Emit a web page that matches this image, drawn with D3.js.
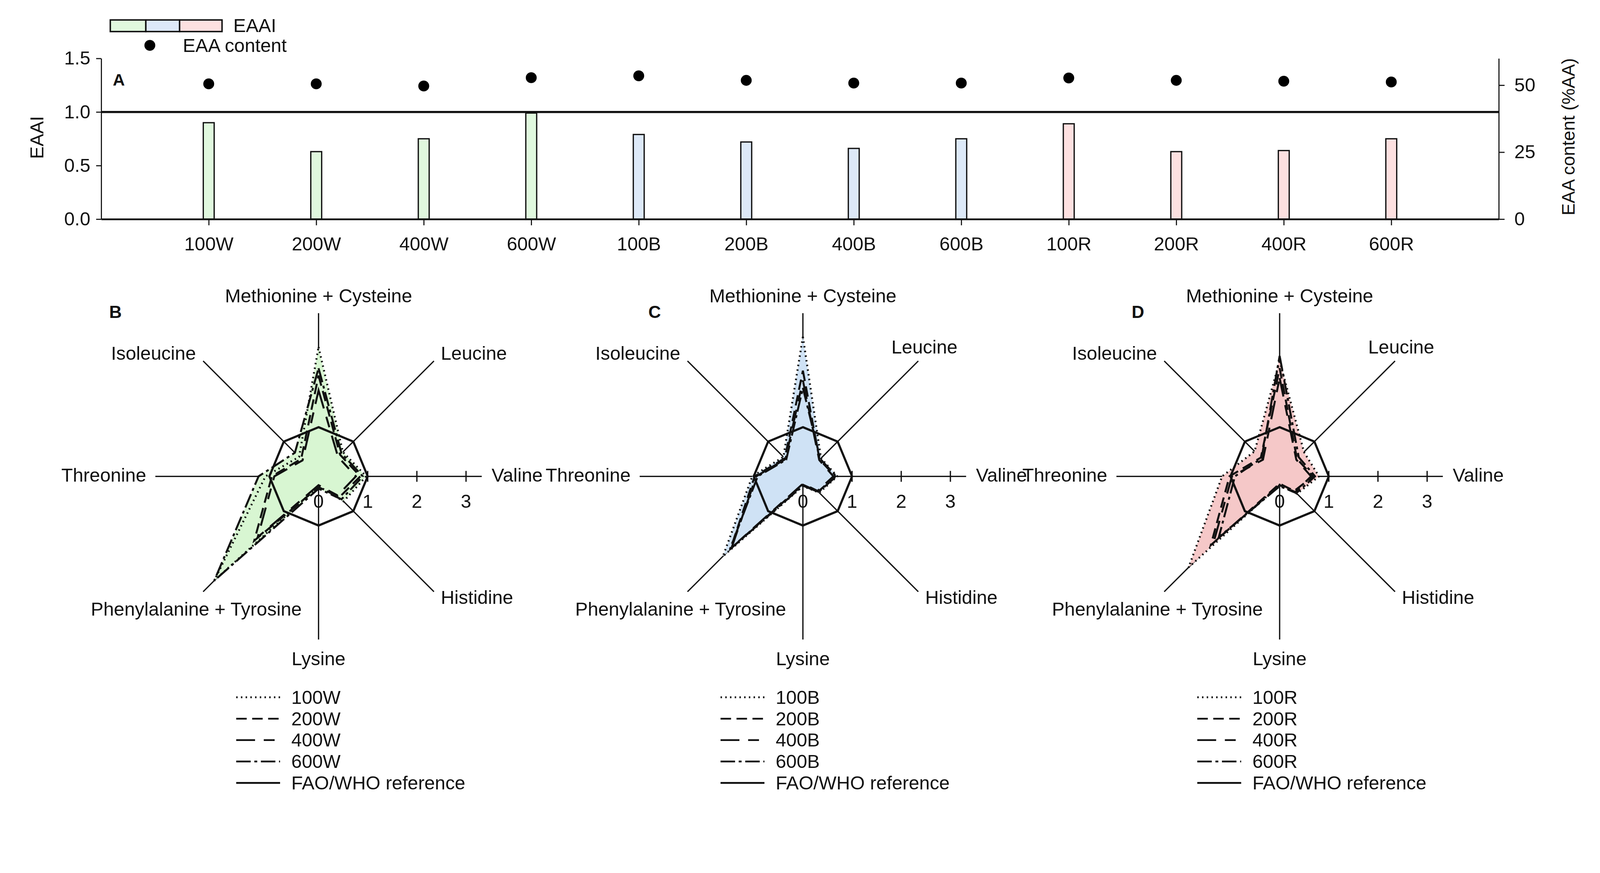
<!DOCTYPE html>
<html>
<head>
<meta charset="utf-8">
<script src="https://cdn.jsdelivr.net/npm/d3@7"></script>
<style>
  html, body { margin: 0; padding: 0; background: #fff; overflow: hidden; }
  svg { display: block; width: 100vw; height: 100vh; }
  text { font-family: Arial, "Liberation Sans", sans-serif; fill: #111; }
</style>
</head>
<body>
<script>
// ---- panel A data
var categories = ["100W", "200W", "400W", "600W", "100B", "200B", "400B", "600B", "100R", "200R", "400R", "600R"];
var groups = ["W", "W", "W", "W", "B", "B", "B", "B", "R", "R", "R", "R"];
var eaai = [0.90, 0.63, 0.75, 0.99, 0.79, 0.72, 0.66, 0.75, 0.89, 0.63, 0.64, 0.75];
var eaaContent = [50.5, 50.5, 49.7, 52.8, 53.5, 51.8, 50.8, 50.8, 52.7, 51.8, 51.5, 51.2];
var leftTicks = [0, 0.5, 1.0, 1.5];
var rightTicks = [0, 25, 50];

// ---- radar data (order of aminoAcids)
var aminoAcids = ["Methionine + Cysteine", "Leucine", "Valine", "Histidine", "Lysine",
                  "Phenylalanine + Tyrosine", "Threonine", "Isoleucine"];
var reference = [1, 1, 1, 1, 1, 1, 1, 1];
var radarTicks = [0, 1, 2, 3];

var w100 = [2.63, 0.70, 0.97, 0.72, 0.20, 3.00, 1.08, 0.56];
var w200 = [2.05, 0.62, 0.85, 0.60, 0.22, 1.85, 0.95, 0.50];
var w400 = [1.75, 0.56, 0.76, 0.55, 0.18, 1.75, 0.90, 0.46];
var w600 = [2.20, 0.66, 0.90, 0.66, 0.25, 3.00, 1.22, 0.68];

var b100 = [2.84, 0.52, 0.70, 0.47, 0.20, 2.30, 1.03, 0.56];
var b200 = [2.15, 0.48, 0.66, 0.44, 0.17, 2.08, 0.98, 0.52];
var b400 = [1.95, 0.47, 0.62, 0.42, 0.15, 2.05, 0.95, 0.50];
var b600 = [1.80, 0.50, 0.68, 0.45, 0.19, 2.10, 0.92, 0.48];

var r100 = [2.35, 0.70, 0.80, 0.50, 0.17, 2.62, 1.17, 0.72];
var r200 = [2.20, 0.50, 0.68, 0.42, 0.15, 1.98, 1.02, 0.54];
var r400 = [2.00, 0.48, 0.64, 0.45, 0.18, 1.90, 0.97, 0.48];
var r600 = [2.45, 0.55, 0.72, 0.48, 0.20, 1.75, 0.91, 0.52];

var barColor = { W: "#e0f8de", B: "#dde9f8", R: "#fde0e0" };
var dashes = ["4 9", "29 15", "52 24 30 24", "40 10 8 10"];

var W = 4410, H = 2235;
var svg = d3.select("body").append("svg")
    .attr("viewBox", "0 0 " + W + " " + H)
    .attr("preserveAspectRatio", "xMidYMin meet");
svg.append("rect").attr("width", W).attr("height", H).attr("fill", "#fff");

// ================= panel A =================
var x = d3.scaleLinear().domain([0, categories.length + 1]).range([279, 4131]);
var yL = d3.scaleLinear().domain([0, 1.5]).range([604, 161]);
var yR = d3.scaleLinear().domain([0, 60]).range([604, 161]);

function styleAxis(g, w) {
    g.attr("font-family", "Arial, 'Liberation Sans', sans-serif").attr("font-size", 52);
    g.select(".domain").attr("stroke", "#111").attr("stroke-width", w);
    g.selectAll(".tick line").attr("stroke", "#111").attr("stroke-width", 3);
    g.selectAll(".tick text").attr("fill", "#111");
}

svg.append("g").attr("transform", "translate(" + x(0) + ",0)")
    .call(d3.axisLeft(yL).tickValues(leftTicks).tickFormat(d3.format(".1f"))
        .tickSize(14).tickPadding(16).tickSizeOuter(0))
    .call(styleAxis, 3);

svg.append("g").attr("transform", "translate(" + x(categories.length + 1) + ",0)")
    .call(d3.axisRight(yR).tickValues(rightTicks).tickSize(16).tickPadding(27).tickSizeOuter(0))
    .call(styleAxis, 3);

// bars
svg.append("g").selectAll("rect").data(eaai).enter().append("rect")
    .attr("x", function(d, i) { return x(i + 1) - 15; })
    .attr("y", function(d) { return yL(d); })
    .attr("width", 30)
    .attr("height", function(d) { return yL(0) - yL(d); })
    .attr("fill", function(d, i) { return barColor[groups[i]]; })
    .attr("stroke", "#111").attr("stroke-width", 3.5);

svg.append("g").attr("transform", "translate(0," + yL(0) + ")")
    .call(d3.axisBottom(x).tickValues(d3.range(1, categories.length + 1))
        .tickFormat(function(i) { return categories[i - 1]; })
        .tickSize(17).tickPadding(32).tickSizeOuter(0))
    .call(styleAxis, 5);

// reference line EAAI = 1
svg.append("line")
    .attr("x1", x(0)).attr("x2", x(categories.length + 1))
    .attr("y1", yL(1)).attr("y2", yL(1))
    .attr("stroke", "#111").attr("stroke-width", 6);

// dots
svg.append("g").selectAll("circle").data(eaaContent).enter().append("circle")
    .attr("cx", function(d, i) { return x(i + 1); })
    .attr("cy", function(d) { return yR(d); })
    .attr("r", 15).attr("fill", "#000");

svg.append("text").attr("x", 311).attr("y", 236)
    .attr("font-size", 46).attr("font-weight", "bold").text("A");

svg.append("text").attr("transform", "translate(120,379) rotate(-90)")
    .attr("text-anchor", "middle").attr("font-size", 52).text("EAAI");
svg.append("text").attr("transform", "translate(4340,377) rotate(-90)")
    .attr("text-anchor", "middle").attr("font-size", 50).text("EAA content (%AA)");

// top legend
var lg = svg.append("g");
[["W", 304, 402], ["B", 402, 495], ["R", 495, 612]].forEach(function(s) {
    lg.append("rect").attr("x", s[1]).attr("y", 55).attr("width", s[2] - s[1]).attr("height", 32)
        .attr("fill", barColor[s[0]]).attr("stroke", "#111").attr("stroke-width", 4);
});
lg.append("text").attr("x", 643).attr("y", 88).attr("font-size", 52).text("EAAI");
lg.append("circle").attr("cx", 413).attr("cy", 125).attr("r", 15).attr("fill", "#000");
lg.append("text").attr("x", 504).attr("y", 143).attr("font-size", 52).text("EAA content");

// ================= radar panels =================
var r = d3.scaleLinear().domain([0, 3]).range([0, 3 * 135.5]);
var axisMax = 3.32;
var step = 2 * Math.PI / aminoAcids.length;

// label placement relative to the centre
var labelPos = [
    [0, -480, "middle"], [337, -321, "start"], [477, 15, "start"], [337, 352, "start"],
    [0, 521, "middle"], [-337, 384, "middle"], [-475, 15, "end"], [-338, -321, "end"]
];

var panels = [
    { letter: "B", lx: 301, cx: 878, fill: "#d8f6d2", names: ["100W", "200W", "400W", "600W"],
      series: [w100, w200, w400, w600], leucine: [337, -321, "start"] },
    { letter: "C", lx: 1787, cx: 2213, fill: "#cfe2f5", names: ["100B", "200B", "400B", "600B"],
      series: [b100, b200, b400, b600], leucine: [335, -339, "middle"] },
    { letter: "D", lx: 3119, cx: 3527, fill: "#f5c8c8", names: ["100R", "200R", "400R", "600R"],
      series: [r100, r200, r400, r600], leucine: [335, -339, "middle"] }
];
var cy = 1313;

var radial = d3.lineRadial()
    .angle(function(d, i) { return i * step; })
    .radius(function(d) { return r(d); })
    .curve(d3.curveLinearClosed);

panels.forEach(function(p) {
    var g = svg.append("g").attr("transform", "translate(" + p.cx + "," + cy + ")");

    // spokes
    g.selectAll("line.spoke").data(aminoAcids).enter().append("line")
        .attr("x1", 0).attr("y1", 0)
        .attr("x2", function(d, i) { return r(axisMax) * Math.sin(i * step); })
        .attr("y2", function(d, i) { return -r(axisMax) * Math.cos(i * step); })
        .attr("stroke", "#111").attr("stroke-width", 3.5);

    // ticks on the Valine spoke
    g.selectAll("line.tk").data(radarTicks.slice(1)).enter().append("line")
        .attr("x1", function(d) { return r(d); }).attr("x2", function(d) { return r(d); })
        .attr("y1", -15).attr("y2", 15)
        .attr("stroke", "#111").attr("stroke-width", 3.5);

    // fills
    g.selectAll("path.fill").data(p.series).enter().append("path")
        .attr("d", radial).attr("fill", p.fill).attr("stroke", "none");

    // FAO/WHO reference octagon
    g.append("path").attr("d", radial(reference))
        .attr("fill", "none").attr("stroke", "#111").attr("stroke-width", 6);

    // series outlines
    g.selectAll("path.s").data(p.series).enter().append("path")
        .attr("d", radial).attr("fill", "none")
        .attr("stroke", "#111").attr("stroke-width", 5.5)
        .attr("stroke-dasharray", function(d, i) { return dashes[i]; });

    // axis labels
    g.selectAll("text.lab").data(aminoAcids).enter().append("text")
        .attr("x", function(d, i) { return (i === 1 ? p.leucine : labelPos[i])[0]; })
        .attr("y", function(d, i) { return (i === 1 ? p.leucine : labelPos[i])[1]; })
        .attr("text-anchor", function(d, i) { return (i === 1 ? p.leucine : labelPos[i])[2]; })
        .attr("font-size", 52).text(function(d) { return d; });

    // radial tick labels
    g.selectAll("text.tl").data(radarTicks).enter().append("text")
        .attr("x", function(d) { return r(d); }).attr("y", 87)
        .attr("text-anchor", "middle").attr("font-size", 52).text(function(d) { return d; });

    svg.append("text").attr("x", p.lx).attr("y", 876)
        .attr("font-size", 48).attr("font-weight", "bold").text(p.letter);

    // legend
    var leg = svg.append("g").attr("transform", "translate(" + (p.cx - 227) + ",1922)");
    var items = p.names.concat(["FAO/WHO reference"]);
    items.forEach(function(name, i) {
        leg.append("line").attr("x1", 0).attr("x2", 121)
            .attr("y1", i * 59).attr("y2", i * 59)
            .attr("stroke", "#111").attr("stroke-width", 5)
            .attr("stroke-dasharray", i < 4 ? dashes[i] : null);
        leg.append("text").attr("x", 152).attr("y", i * 59 + 18)
            .attr("font-size", 52).text(name);
    });
});
</script>
</body>
</html>
